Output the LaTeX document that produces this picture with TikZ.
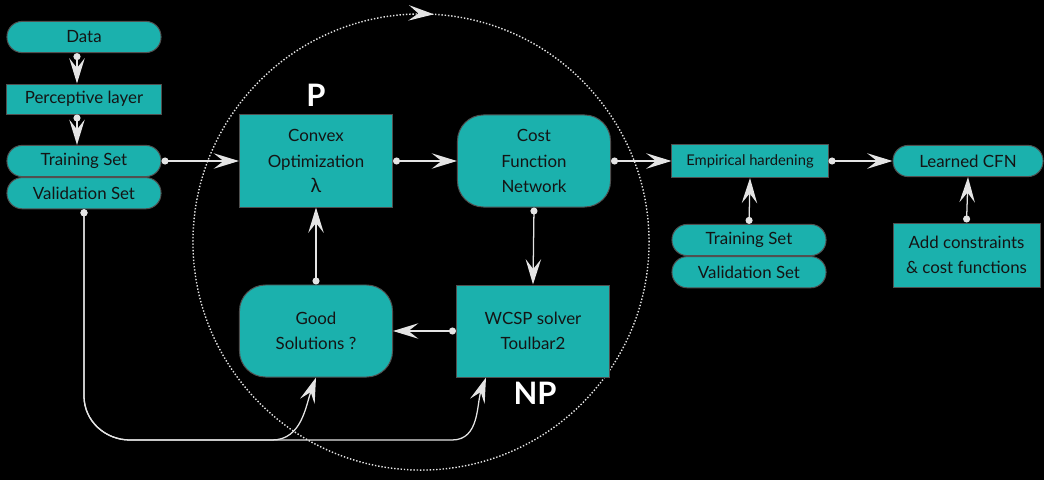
\documentclass[tikz,border=0pt]{standalone}
\usepackage{fontspec}
\setmainfont{Lato}
\usetikzlibrary{arrows.meta,positioning,decorations.markings}

\definecolor{cfnteal}{RGB}{27,177,173}
\definecolor{cfnedge}{RGB}{80,80,80}
\definecolor{cfnink}{RGB}{20,20,20}
\definecolor{cfnwire}{RGB}{228,228,228}

\begin{document}
\begin{tikzpicture}[x=0.025cm, y=-0.025cm, font=\fontsize{12}{18}\selectfont,
    box/.style={draw=cfnedge, fill=cfnteal, text=cfnink, line width=0.7pt, align=center, inner sep=2pt},
    pill/.style={box, rounded corners=0.38cm, minimum width=3.85cm, minimum height=0.78cm},
    bar/.style={box, minimum width=3.85cm, minimum height=0.75cm},
    block/.style={box, minimum width=3.825cm, minimum height=2.3cm},
    softblock/.style={block, rounded corners=0.65cm},
    flow/.style={draw=cfnwire, line width=0.9pt, {Circle[length=5pt]}-{Stealth[length=18pt,width=11pt,inset=7pt]}},
    ring/.style={draw=cfnwire, line width=1pt, dash pattern=on 1pt off 1.3pt,
        postaction=decorate, decoration={markings, mark=at position 0.241 with {\arrowreversed[draw=cfnwire, fill=cfnwire, solid]{Stealth[length=18pt,width=11pt,inset=7pt]}}}},
    cls/.style={text=white, font=\bfseries\fontsize{22}{22}\selectfont}
]
    % fond et cadre
    \fill[black] (0,0) rectangle (1044,480);
    \useasboundingbox (0,0) rectangle (1044,480);

    % boucle d'apprentissage
    \draw[ring] (421,242) circle (5.7cm);

    % colonne de gauche
    \node[pill] (data) at (84,37) {Data};
    \node[bar] (per) at (84,99) {Perceptive layer};
    \node[pill] (trl) at (84,161) {Training Set};
    \node[pill, below=0pt of trl] (vll) {Validation Set};

    % la boucle
    \node[block] (cvx) at (316,161) {Convex\\Optimization\\{\fontsize{14}{18}\selectfont λ}};
    \node[softblock] (cfn) at (534,161) {Cost\\Function\\Network};
    \node[block] (wcsp) at (533,331) {WCSP solver\\Toulbar2};
    \node[softblock] (good) at (316,331) {Good\\Solutions ?};
    \node[cls] (lblp) at (316,95) {P};
    \node[cls] (lblnp) at (535,393) {NP};

    % colonne de droite
    \node[bar, minimum width=3.9cm, minimum height=0.825cm, font=\fontsize{10.5}{12}\selectfont] (emp) at (750,161) {Empirical hardening};
    \node[pill] (trr) at (749,240) {Training Set};
    \node[pill, below=0pt of trr] (vlr) {Validation Set};
    \node[pill, minimum width=3.75cm] (lcfn) at (968,161) {Learned CFN};
    \node[box, minimum width=3.675cm, minimum height=1.6cm] (addc) at (966.5,255) {Add constraints\\\& cost functions};

    % flèches
    \draw[flow] ([xshift=-0.175cm]data.south) -- ([xshift=-0.175cm]per.north);
    \draw[flow] ([xshift=-0.175cm]per.south) -- ([xshift=-0.175cm]trl.north);
    \draw[flow] (trl.east) -- (trl.east -| cvx.west);
    \draw[flow] (cvx.east) -- (cfn.west);
    \draw[flow] (cfn.south) -- (wcsp.north);
    \draw[flow] (wcsp.west) -- (good.east);
    \draw[flow] (good.north) -- (cvx.south);
    \draw[flow] (cfn.east) -- (emp.west);
    \draw[flow] (trr.north) -- (emp.south);
    \draw[flow] (emp.east) -- (lcfn.west);
    \draw[flow] (addc.north) -- (lcfn.south);

    % retour du jeu de validation
    \coordinate (loop) at (130,440);
    \draw[flow] (vll.south) -- (vll.south |- 0,396) to[out=-90,in=180] (loop) -- (272,440) to[out=0,in=-110] (good.south);
    \draw[flow] (vll.south) -- (vll.south |- 0,396) to[out=-90,in=180] (loop) -- (452,440) to[out=0,in=-110] ([xshift=0.75cm]wcsp.south west);
\end{tikzpicture}
\end{document}
